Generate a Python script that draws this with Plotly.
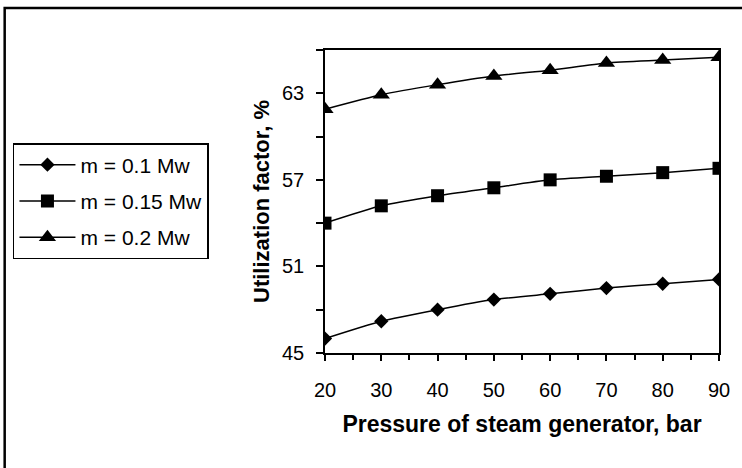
import plotly.graph_objects as go

pressure = [20, 30, 40, 50, 60, 70, 80, 90]
u_01 = [46.0, 47.2, 48.0, 48.7, 49.1, 49.5, 49.8, 50.1]
u_015 = [54.0, 55.2, 55.9, 56.45, 57.0, 57.25, 57.5, 57.8]
u_02 = [61.9, 62.9, 63.6, 64.2, 64.6, 65.1, 65.3, 65.5]

series_names = ["m = 0.1 Mw", "m = 0.15 Mw", "m = 0.2 Mw"]
series_vals = [u_01, u_015, u_02]
symbols = ["diamond", "square", "triangle-up"]
sizes = [11, 13, 15]

y_ticks = [45, 48, 51, 54, 57, 60, 63, 66]
y_labels = ["45", "", "51", "", "57", "", "63", ""]

FONT = "Liberation Sans, Arial, sans-serif"

fig = go.Figure()
for i, (name, vals, sym, sz) in enumerate(zip(series_names, series_vals, symbols, sizes)):
    fig.add_trace(go.Scatter(
        x=pressure, y=vals, name=name, mode="lines+markers",
        line=dict(color="black", width=1.5, shape="spline", smoothing=0.6),
        marker=dict(symbol=sym, size=sz, color="black"),
        legendgroup=f"g{i}",
    ))

fig.update_layout(
    width=742, height=468,
    margin=dict(l=325, r=23, t=50, b=115),
    paper_bgcolor="white", plot_bgcolor="white",
    font=dict(family=FONT, size=20, color="black"),
    showlegend=True,
    legend=dict(
        x=-0.792, y=0.693, xanchor="left", yanchor="top",
        bordercolor="black", borderwidth=1.5, bgcolor="white",
        font=dict(size=21), itemwidth=56, tracegroupgap=6,
        traceorder="grouped",
    ),
    xaxis=dict(
        range=[20, 90], tickvals=pressure, ticks="outside", ticklen=6,
        tickwidth=1.5, tickcolor="black", ticklabelstandoff=12,
        minor=dict(dtick=5, tick0=20, ticks="outside", ticklen=5, tickwidth=1.5, tickcolor="black"),
        showline=True, linecolor="black", linewidth=1.5, mirror=True,
        showgrid=False, zeroline=False,
        tickfont=dict(size=20),
        title=dict(text="<b>Pressure of steam generator, bar</b>", font=dict(size=23), standoff=16),
    ),
    yaxis=dict(
        range=[45, 66], tickvals=y_ticks, ticktext=y_labels, ticks="outside", ticklen=7,
        tickwidth=1.5, tickcolor="black", ticklabelstandoff=8,
        showline=True, linecolor="black", linewidth=1.5, mirror=True,
        showgrid=False, zeroline=False,
        tickfont=dict(size=20),
        title=dict(text="<b>Utilization factor, %</b>", font=dict(size=22), standoff=6),
    ),
)

# frame around the figure
fig.add_shape(type="rect", xref="paper", yref="paper",
              x0=-0.813, x1=1.2, y0=-0.6, y1=1.139,
              line=dict(color="black", width=2.5), layer="above")

fig.write_html("out.html")
